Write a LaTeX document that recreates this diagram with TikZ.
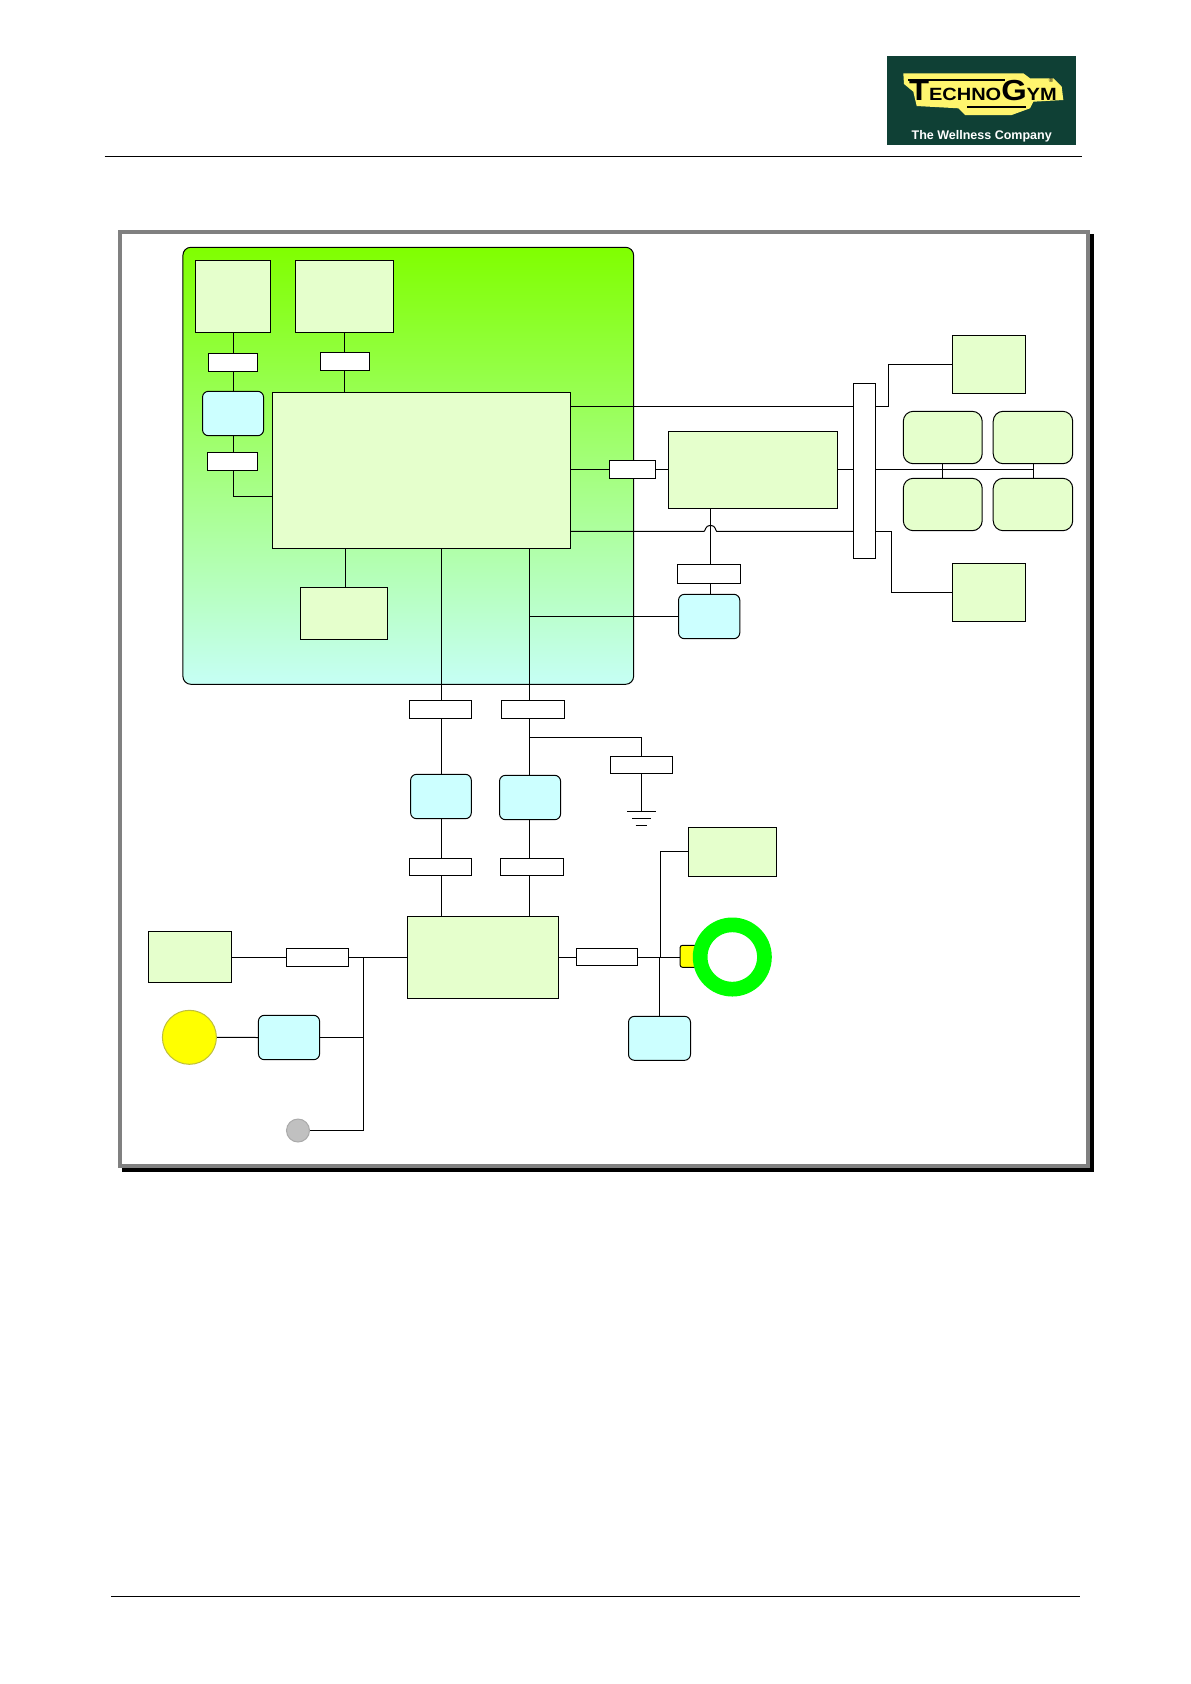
\documentclass[tikz,border=0pt]{standalone}
\usepackage{fontspec}
\setmainfont{Liberation Sans}
\newfontfamily\logofont[FakeStretch=1.13]{Liberation Sans}
\usetikzlibrary{calc}
\pgfdeclarelayer{panel}
\pgfdeclarelayer{wires}
\pgfsetlayers{panel,wires,main}
\definecolor{lightgr}{HTML}{E5FFCC}
\definecolor{lightcy}{HTML}{CCFFFF}
\definecolor{logobg}{HTML}{0F4035}
\definecolor{logoyl}{HTML}{FFF56E}
\definecolor{framegr}{HTML}{808080}
\definecolor{pgtop}{RGB}{128,255,0}
\definecolor{pgbot}{RGB}{198,255,245}
\definecolor{sunedge}{RGB}{190,190,60}
\definecolor{sunfill}{RGB}{255,255,0}
\definecolor{ringgr}{RGB}{0,255,0}
\definecolor{dotedge}{RGB}{170,170,170}
\definecolor{dotfill}{RGB}{192,192,192}
\tikzset{
  x=1pt,y=-1pt,
  every node/.style={inner sep=0pt,outer sep=0pt,line width=1pt},
  wire/.style={draw=black,line width=1pt},
  plainbox/.style={draw=black,fill=lightgr},
  softbox/.style={draw=black,fill=lightgr,rounded corners=10pt},
  cyanbox/.style={draw=black,fill=lightcy,rounded corners=6pt},
  whitebox/.style={draw=black,fill=white},
  tabbox/.style={draw=black,fill=sunfill,rounded corners=2.5pt},
  panelbox/.style={draw=black,rounded corners=8pt,top color=pgtop,bottom color=pgbot},
}
\newcommand{\blk}[6]{\node[#2,anchor=north west,minimum width={(#5-#3)*1pt},minimum height={(#6-#4)*1pt}] (#1) at (#3,#4) {};}
\begin{document}
\begin{tikzpicture}
\useasboundingbox (0,0) rectangle (1191,1684);
% header and footer rules
\coordinate (hl) at (104.5,156.3);
\coordinate (hr) at (1081.7,156.3);
\coordinate (fl) at (111,1596);
\coordinate (fr) at (1079.5,1596);
\draw[wire] (hl) -- (hr);
\draw[wire] (fl) -- (fr);
% logo
\fill[logobg] (887,56) rectangle (1076,145);
\fill[logoyl] (903.3,73.3) -- (1023.3,73.3) -- (1030,78.3) -- (1053.3,78.3) -- (1061.7,86.7) -- (1063.3,100) -- (1033.3,101.7) -- (1030,108.3) -- (1011.7,115) -- (965,115) -- (958.3,108.3) -- (916.7,106) -- (913.3,91.7) -- (904,84) -- cycle;
\fill[black] (907.5,79) rectangle (1005,81.2);
\fill[black] (966.5,105.5) rectangle (1026,107.7);
\node[anchor=base west,text=black] (logoname) at (909,100) {\logofont\bfseries{\fontsize{29}{29}\selectfont T}{\fontsize{17.7}{18}\selectfont ECHNO}{\fontsize{29}{29}\selectfont G}{\fontsize{17.7}{18}\selectfont YM}};
\node[text=black,font=\fontsize{6}{6}\selectfont] (logoreg) at (1051,80) {®};
\node[anchor=base,text=white,font=\bfseries\fontsize{12.5}{13}\selectfont] (logotag) at (981.7,139.3) {The Wellness Company};
% frame
\fill[black] (122,1168) rectangle (1094,1172);
\fill[black] (1090,234) rectangle (1094,1172);
\draw[framegr,line width=4pt] (120,232) rectangle (1088,1166);
% panel
\begin{pgfonlayer}{panel}
\fill[white] (0,0) rectangle (1191,1684);
\blk{panelg}{panelbox}{182.9}{247.3}{633.6}{684.3}
\end{pgfonlayer}
% blocks
\blk{boxA}{plainbox}{195.4}{260.3}{270.7}{332.7}
\blk{boxB}{plainbox}{295.4}{260.3}{393.6}{332.7}
\blk{wa}{whitebox}{208.2}{353.3}{257.5}{371.7}
\blk{wb}{whitebox}{320.4}{352.3}{369.6}{370.7}
\blk{cya}{cyanbox}{202.5}{391.3}{263.6}{435.7}
\blk{wc}{whitebox}{207.1}{452.3}{257.5}{470.7}
\blk{mainb}{plainbox}{272.5}{392.3}{570.7}{548.7}
\blk{smallb}{plainbox}{300.4}{587.3}{387.5}{639.7}
\blk{wd}{whitebox}{609.3}{460.3}{655.7}{478.3}
\blk{boxC}{plainbox}{668.5}{431.3}{837.6}{508.7}
\blk{bar}{whitebox}{853.4}{383.3}{875.8}{558.7}
\blk{boxTR}{plainbox}{952.2}{335}{1025.6}{393.3}
\blk{boxBR}{plainbox}{952.2}{563.3}{1025.6}{621.7}
\blk{ra}{softbox}{903.3}{411.3}{982.2}{463.7}
\blk{rb}{softbox}{993.2}{411.3}{1072.7}{463.7}
\blk{rc}{softbox}{903.3}{478.3}{982.2}{530.7}
\blk{rd}{softbox}{993.2}{478.3}{1072.7}{530.7}
\blk{we}{whitebox}{677.4}{564.3}{740.8}{583.7}
\blk{cyb}{cyanbox}{678.5}{594.3}{739.8}{638.7}
\blk{wf}{whitebox}{409.3}{700.3}{471.3}{718.7}
\blk{wg}{whitebox}{501.3}{700.3}{564.6}{718.7}
\blk{wh}{whitebox}{610.6}{756.3}{672.7}{773.7}
\blk{cyc}{cyanbox}{410.6}{774.3}{471.3}{818.7}
\blk{cyd}{cyanbox}{499.5}{775.3}{560.6}{819.7}
\blk{wi}{whitebox}{409.3}{858.3}{471.3}{875.7}
\blk{wj}{whitebox}{500.4}{858.3}{563.8}{875.7}
\blk{boxD}{plainbox}{407.5}{916.3}{558.4}{998.7}
\blk{boxL}{plainbox}{148.6}{931.3}{231.6}{982.7}
\blk{wk}{whitebox}{286.5}{948.3}{348.6}{966.7}
\blk{wl}{whitebox}{576.3}{948.3}{637.4}{965.7}
\blk{cye}{cyanbox}{258.4}{1015.3}{319.6}{1059.7}
\blk{boxR}{plainbox}{688.3}{827}{776.7}{876.7}
\blk{cyf}{cyanbox}{628.5}{1016.3}{690.5}{1060.3}
\node[circle,draw=sunedge,fill=sunfill,minimum size=54pt] (sun) at (189.4,1037.3) {};
\node[circle,draw=dotedge,fill=dotfill,minimum size=23pt] (dot) at (298,1130.5) {};
\blk{tab}{tabbox}{680}{945.3}{700}{967.3}
\node[circle,draw=ringgr,line width=14.7pt,minimum size=64.3pt] (ring) at (732.3,957) {};
% guide coordinates
\coordinate (xa) at (233.6,0);
\coordinate (xb) at (344.6,0);
\coordinate (xs) at (345.7,0);
\coordinate (xf) at (441.4,0);
\coordinate (xg) at (529.4,0);
\coordinate (xc) at (710.5,0);
\coordinate (xj) at (363.8,0);
\coordinate (xu) at (660.6,0);
\coordinate (xo) at (659.3,0);
\coordinate (xg2) at (641.4,0);
\coordinate (xt) at (888.2,0);
\coordinate (xq) at (891.3,0);
\coordinate (xr) at (942.2,0);
\coordinate (xw) at (1033.1,0);
\coordinate (yt) at (0,406.5);
\coordinate (ym) at (0,469.3);
\coordinate (yl) at (0,531.3);
\coordinate (yc) at (0,616.3);
\coordinate (ye) at (0,496.3);
\coordinate (yb) at (0,737.3);
\coordinate (yd) at (0,957.3);
\coordinate (hopa) at (704,531.3);
\coordinate (hopb) at (716.7,531.3);
\coordinate (gt) at (641.4,811.3);
\coordinate (g1l) at (627.1,811.3);
\coordinate (g1r) at (656.2,811.3);
\coordinate (g2l) at (632,818.3);
\coordinate (g2r) at (651.3,818.3);
\coordinate (g3l) at (635.6,825.3);
\coordinate (g3r) at (647.2,825.3);
% connectors
\begin{pgfonlayer}{wires}
\draw[wire] (xa |- boxA.south) -- (xa |- wa.north);
\draw[wire] (xa |- wa.south) -- (xa |- cya.north);
\draw[wire] (xa |- cya.south) -- (xa |- wc.north);
\draw[wire] (xa |- wc.south) -- (xa |- ye) -- (mainb.west |- ye);
\draw[wire] (xb |- boxB.south) -- (xb |- wb.north);
\draw[wire] (xb |- wb.south) -- (xb |- mainb.north);
\draw[wire] (xs |- mainb.south) -- (xs |- smallb.north);
\draw[wire] (xf |- mainb.south) -- (xf |- wf.north);
\draw[wire] (xf |- wf.south) -- (xf |- cyc.north);
\draw[wire] (xf |- cyc.south) -- (xf |- wi.north);
\draw[wire] (xf |- wi.south) -- (xf |- boxD.north);
\draw[wire] (xg |- mainb.south) -- (xg |- wg.north);
\draw[wire] (xg |- wg.south) -- (xg |- cyd.north);
\draw[wire] (xg |- cyd.south) -- (xg |- wj.north);
\draw[wire] (xg |- wj.south) -- (xg |- boxD.north);
\draw[wire] (xg |- yc) -- (cyb.west |- yc);
\draw[wire] (xg |- yb) -- (wh.north |- yb) -- (wh.north);
\draw[wire] (wh.south -| xg2) -- (gt);
\draw[wire] (g1l) -- (g1r);
\draw[wire] (g2l) -- (g2r);
\draw[wire] (g3l) -- (g3r);
\draw[wire] (mainb.east |- yt) -- (bar.west |- yt);
\draw[wire] (mainb.east |- ym) -- (wd.west |- ym);
\draw[wire] (wd.east |- ym) -- (boxC.west |- ym);
\draw[wire] (boxC.east |- ym) -- (bar.west |- ym);
\draw[wire] (bar.east |- ym) -- (xw |- ym);
\draw[wire] (xr |- ra.south) -- (xr |- rc.north);
\draw[wire] (xw |- rb.south) -- (xw |- rd.north);
\draw[wire] (bar.east |- yt) -- (xt |- yt) -- (xt |- boxTR.west) -- (boxTR.west);
\draw[wire] (bar.east |- yl) -- (xq |- yl) -- (xq |- boxBR.west) -- (boxBR.west);
\draw[wire] (mainb.east |- yl) -- (hopa) .. controls (705.5,531.3) and (705,525.3) .. (710.5,525.3) .. controls (716,525.3) and (715.5,531.3) .. (hopb) -- (bar.west |- yl);
\draw[wire] (xc |- boxC.south) -- (xc |- we.north);
\draw[wire] (xc |- we.south) -- (xc |- cyb.north);
\draw[wire] (boxL.east |- yd) -- (wk.west |- yd);
\draw[wire] (wk.east |- yd) -- (boxD.west |- yd);
\draw[wire] (xj |- yd) -- (xj |- dot.east) -- (dot.east);
\draw[wire] (cye.east) -- (xj |- cye.east);
\draw[wire] (sun.east) -- (cye.west);
\draw[wire] (boxD.east |- yd) -- (wl.west |- yd);
\draw[wire] (wl.east |- yd) -- (tab.west |- yd);
\draw[wire] (xu |- yd) -- (xu |- boxR.west) -- (boxR.west);
\draw[wire] (xo |- yd) -- (xo |- cyf.north);
\end{pgfonlayer}
\end{tikzpicture}
\end{document}
